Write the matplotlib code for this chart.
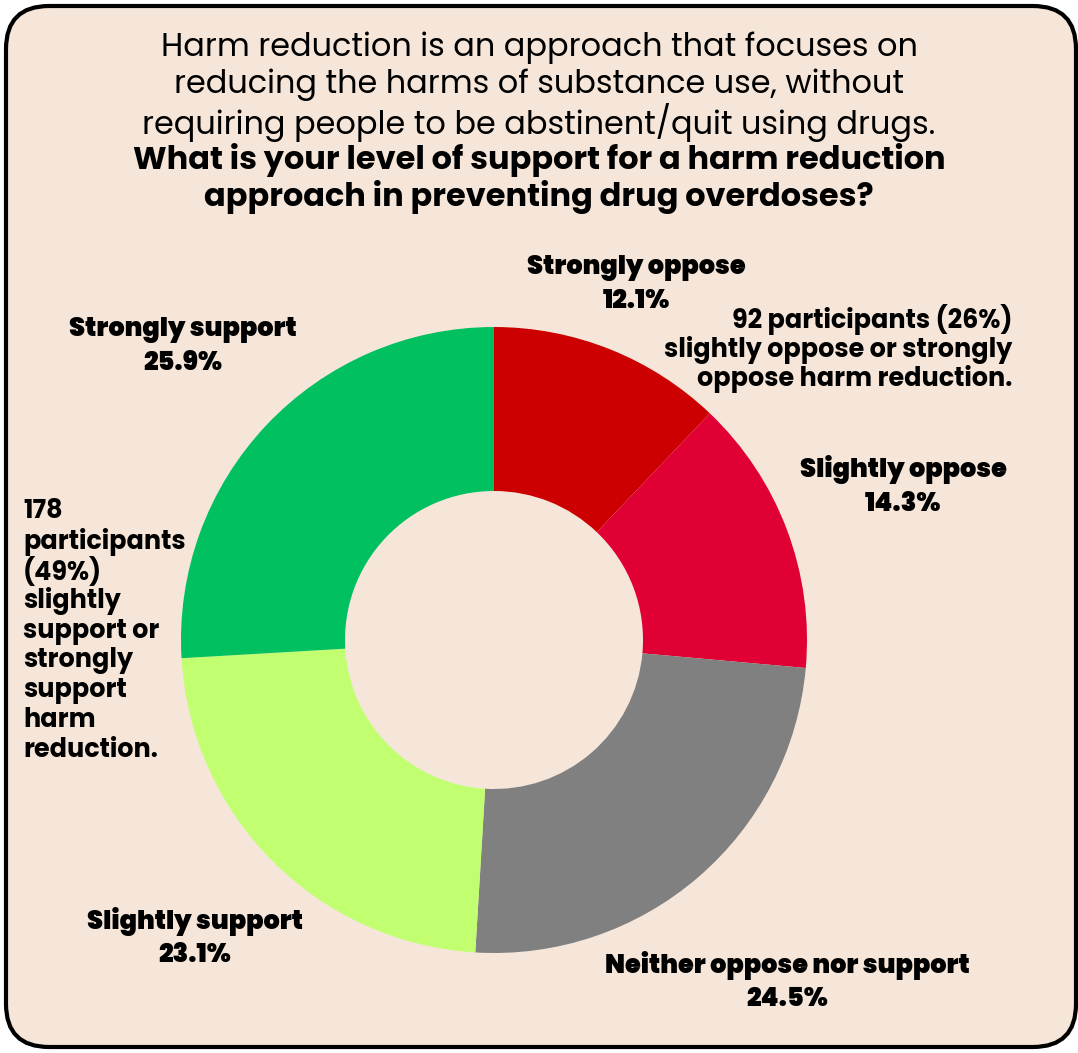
import matplotlib
matplotlib.use("Agg")
import matplotlib.pyplot as plt
from matplotlib.patches import FancyBboxPatch
from matplotlib import font_manager

categories = ["Strongly oppose", "Slightly oppose", "Neither oppose nor support",
              "Slightly support", "Strongly support"]
values = [12.1, 14.3, 24.5, 23.1, 25.9]
colors = ["#CC0000", "#E00034", "#808080", "#C2FF70", "#00C060"]

W, H = 1078, 1053
fig = plt.figure(figsize=(W / 100, H / 100), dpi=100)
fig.patch.set_facecolor("white")

BG = "#F5E6D9"
border = FancyBboxPatch((6 / W, 6 / H), (W - 8) / W, (H - 12) / H,
                        boxstyle="round,pad=0,rounding_size=0.04",
                        transform=fig.transFigure, facecolor=BG,
                        edgecolor="black", linewidth=3, mutation_aspect=W / H,
                        zorder=-10)
fig.patches.append(border)

def px(x, y):
    return x / W, 1 - y / H

names = {f.name for f in font_manager.fontManager.ttflist}
bodyf = "Poppins" if "Poppins" in names else ("Open Sans" if "Open Sans" in names else "DejaVu Sans")
heavy = bodyf

title_lines = ["Harm reduction is an approach that focuses on",
               "reducing the harms of substance use, without",
               "requiring people to be abstinent/quit using drugs."]
bold_lines = ["What is your level of support for a harm reduction",
              "approach in preventing drug overdoses?"]
for t, y in zip(title_lines, [48, 85, 122]):
    fig.text(*px(539, y), t, ha="center", va="center", fontsize=23,
             family=bodyf, color="black")
for t, y in zip(bold_lines, [160, 197]):
    fig.text(*px(539, y), t, ha="center", va="center", fontsize=23,
             family=bodyf, weight="bold", color="black")

cx, cy, R, r = 494, 640, 313, 149
ax = fig.add_axes([(cx - 330) / W, (H - cy - 330) / H, 660 / W, 660 / H])
ax.set_zorder(2)
ax.set_facecolor("none")
ax.pie(values, colors=colors, startangle=90, counterclock=False, radius=R,
       wedgeprops=dict(width=R - r, linewidth=0))
ax.set_xlim(-330, 330)
ax.set_ylim(-330, 330)
ax.set_aspect("equal")
ax.axis("off")

lab_pos = [(636, 268, 302), (903, 469, 505), (787, 965, 1000),
           (195, 921, 956), (183, 330, 364)]
for cat, v, (x, y1, y2) in zip(categories, values, lab_pos):
    fig.text(*px(x, y1), cat, ha="center", va="center", fontsize=18.5,
             family=heavy, weight=900, color="black", zorder=5)
    fig.text(*px(x, y2), f"{v}%", ha="center", va="center", fontsize=18.5,
             family=heavy, weight=900, color="black", zorder=5)

oppose_note = ["92 participants (26%)", "slightly oppose or strongly",
               "oppose harm reduction."]
for t, y in zip(oppose_note, [320, 350, 379]):
    fig.text(*px(1012, y), t, ha="right", va="center", fontsize=18.3,
             family=bodyf, weight="bold", color="black", zorder=5)

support_note = ["178", "participants", "(49%)", "slightly", "support or",
                "strongly", "support", "harm", "reduction."]
for i, t in enumerate(support_note):
    fig.text(*px(23, 512 + i * 29.8), t, ha="left", va="center", fontsize=18.3,
             family=bodyf, weight="bold", color="black", zorder=5)

fig.savefig("out.png", dpi=100, facecolor="white")
